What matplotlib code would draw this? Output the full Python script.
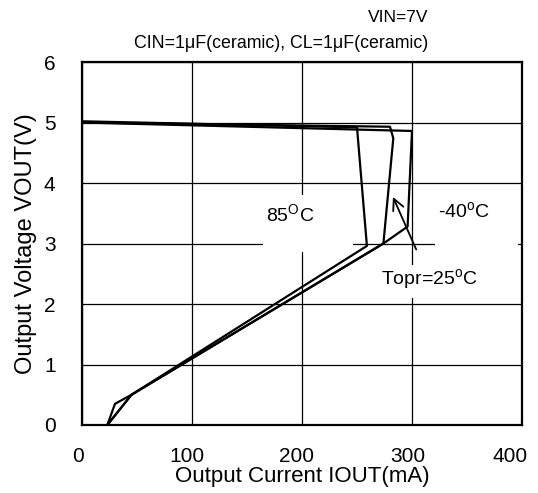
import matplotlib
matplotlib.use("Agg")
import matplotlib.pyplot as plt
from matplotlib.patches import Rectangle
from matplotlib.transforms import ScaledTranslation

plt.rcParams['font.family'] = ['Liberation Sans', 'DejaVu Sans']
plt.rcParams['mathtext.fontset'] = 'custom'
plt.rcParams['mathtext.rm'] = 'Liberation Sans'

# Data
iout_85 = [0, 250, 259, 45, 30, 23]
vout_85 = [5.02, 4.92, 2.96, 0.50, 0.35, 0.0]
iout_25 = [0, 280, 283, 274, 45, 23]
vout_25 = [5.00, 4.93, 4.74, 3.00, 0.50, 0.0]
iout_m40 = [0, 300, 296, 274, 45, 23]
vout_m40 = [5.00, 4.86, 3.28, 3.00, 0.50, 0.0]

xticks = [0, 100, 200, 300, 400]
yticks = [0, 1, 2, 3, 4, 5, 6]

fig = plt.figure(figsize=(5.38, 4.93), dpi=100)
ax = fig.add_axes([82/538, 68/493, 440/538, 363/493])
ax.set_xlim(0, 400)
ax.set_ylim(0, 6)
ax.set_xticks(xticks)
ax.set_yticks(yticks)
ax.tick_params(length=0, labelsize=15)
ax.tick_params(axis='x', pad=16)
ax.tick_params(axis='y', pad=19)
ax.grid(True, color='black', linewidth=0.9, zorder=0)
ax.set_axisbelow(True)
for s in ax.spines.values():
    s.set_linewidth(1.6)

# shift x tick labels slightly left, as in the reference
shifts = [-4, -5, -5, -4, -12]
for lbl, dx in zip(ax.get_xticklabels(), shifts):
    lbl.set_transform(lbl.get_transform() + ScaledTranslation(dx / 100, 0, fig.dpi_scale_trans))

# white boxes behind labels (hide grid)
for (x0, y0, w, h) in [(164.5, 2.86, 81.5, 0.94), (321, 2.9, 75, 0.9), (271, 2.1, 91, 0.54)]:
    ax.add_patch(Rectangle((x0, y0), w, h, facecolor='white', edgecolor='none', zorder=1))

for xs, ys in [(iout_85, vout_85), (iout_25, vout_25), (iout_m40, vout_m40)]:
    ax.plot(xs, ys, color='black', linewidth=1.6, zorder=3)

ax.text(189, 3.47, r'85$^{\rm O}$C', fontsize=14, ha='center', va='center', zorder=4)
ax.text(347, 3.52, r'-40$^{\rm o}$C', fontsize=14, ha='center', va='center', zorder=4)
ax.annotate(r'Topr=25$^{\rm o}$C', xy=(282.7, 3.77), xytext=(316, 2.40),
            fontsize=14, ha='center', va='center', zorder=4,
            arrowprops=dict(arrowstyle='->', color='black', lw=1.3,
                            mutation_scale=20, shrinkA=12, shrinkB=0))

ax.set_xlabel('Output Current IOUT(mA)', fontsize=16, labelpad=0)
ax.set_ylabel('Output Voltage VOUT(V)', fontsize=17, labelpad=5)

fig.text(428/538, 1 - 17/493, 'VIN=7V', fontsize=12.5, ha='right', va='center')
fig.text(428/538, 1 - 44/493, 'CIN=1μF(ceramic), CL=1μF(ceramic)', fontsize=12.8, ha='right', va='center')

fig.savefig('out.png', dpi=100)
